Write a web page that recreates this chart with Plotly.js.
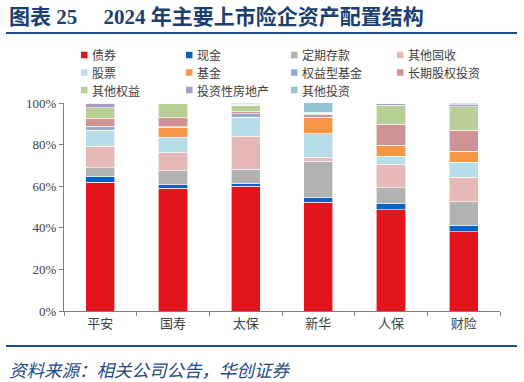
<!DOCTYPE html>
<html><head><meta charset="utf-8">
<script src="https://cdn.plot.ly/plotly-3.0.1.min.js"></script>
<style>html,body{margin:0;padding:0;background:#fff}#c{width:524px;height:382px}</style>
</head><body><div id="c"></div>
<script>
const categories = ['平安','国寿','太保','新华','人保','财险'];
const seriesNames = ['债券','现金','定期存款','其他固收','股票','基金','权益型基金','长期股权投资','其他权益','投资性房地产','其他投资'];
const bonds      = [61.8, 58.9, 60.0, 52.3, 48.8, 38.2];
const cash       = [2.9, 1.8, 1.5, 2.3, 2.9, 3.1];
const deposits   = [4.2, 6.7, 6.6, 17.3, 7.5, 11.3];
const otherFixed = [10.2, 8.8, 15.8, 2.1, 11.3, 11.6];
const stocks     = [7.7, 7.4, 9.2, 11.2, 3.8, 7.4];
const funds      = [0.0, 4.7, 0.0, 7.7, 5.3, 5.3];
const equityFund = [2.1, 0.3, 1.8, 0.2, 0.0, 0.0];
const ltEquity   = [3.7, 4.2, 0.9, 1.6, 10.3, 9.9];
const otherEq    = [5.0, 6.9, 3.2, 0.3, 9.0, 11.4];
const realEstate = [2.1, 0.3, 0.3, 0.5, 0.9, 1.0];
const otherInv   = [0.3, 0.0, 0.7, 4.8, 0.2, 0.8];
const tickVals   = [0, 20, 40, 60, 80, 100];
const tickText   = ['0%','20%','40%','60%','80%','100%'];

const seriesValues = [bonds, cash, deposits, otherFixed, stocks, funds, equityFund, ltEquity, otherEq, realEstate, otherInv];
const colors = ['#E3141B','#0563C1','#B2B2B2','#E6B8B7','#B7DEE8','#F79646','#95A9D4','#D09393','#B8D096','#A99BC3','#92C4D5'];

const traces = seriesNames.map((n,i)=>({
  type:'bar', name:n, x:categories, y:seriesValues[i],
  marker:{color:colors[i], line:{color:'rgba(255,255,255,0.75)', width:0.8}},
  hoverinfo:'skip', showlegend:false
}));

const font = 'Noto Sans CJK SC, sans-serif';
const serif = 'Liberation Serif, Noto Sans CJK SC, serif';
// plot area in pixels: x 64..500, y 103..311
const PL=64, PW=436, PB=311, PH=208;
const px = v => (v-PL)/PW;
const py = v => (PB-v)/PH;

const annotations = [
  {xref:'paper', yref:'paper', x:px(7), y:py(17), xanchor:'left', yanchor:'middle', showarrow:false,
   text:'<b>图表&nbsp;25&nbsp;&nbsp;&nbsp;&nbsp;&nbsp;2024&nbsp;年主要上市险企资产配置结构</b>', font:{family:serif, size:21, color:'#1B3F73'}},
  {xref:'paper', yref:'paper', x:px(7), y:py(369), xanchor:'left', yanchor:'middle', showarrow:false,
   text:'<i>资料来源：相关公司公告，华创证券</i>', font:{family:font, size:17.5, color:'#1F4A8A'}}
];
const shapes = [
  {type:'line', xref:'paper', yref:'paper', x0:px(6), x1:px(517), y0:py(33), y1:py(33), line:{color:'#1F4E89', width:2}},
  {type:'line', xref:'paper', yref:'paper', x0:px(6), x1:px(517), y0:py(346), y1:py(346), line:{color:'#1F4E89', width:2}}
];
const colX = [81, 186, 291, 397];
const rowY = [55, 72.5, 90];
seriesNames.forEach((n,i)=>{
  const cx = colX[i%4], cy = rowY[Math.floor(i/4)];
  shapes.push({type:'rect', xref:'paper', yref:'paper', x0:px(cx), x1:px(cx+6.5), y0:py(cy+3.25), y1:py(cy-3.25),
    fillcolor:colors[i], line:{width:0}});
  annotations.push({xref:'paper', yref:'paper', x:px(cx+9.5), y:py(cy), xanchor:'left', yanchor:'middle', showarrow:false,
    borderpad:0, text:n, font:{family:font, size:12, color:'#404040'}});
});

const layout = {
  width:524, height:382,
  margin:{l:64, r:24, t:103, b:71},
  barmode:'stack', bargap:0.6,
  paper_bgcolor:'#fff', plot_bgcolor:'#fff',
  font:{family:font, size:12, color:'#404040'},
  showlegend:false,
  xaxis:{showline:true, linecolor:'#7f7f7f', linewidth:1, ticks:'outside', ticklen:4, tickcolor:'#7f7f7f',
    tickson:'boundaries', tickfont:{family:font, size:13, color:'#404040'}, showgrid:false, fixedrange:true},
  yaxis:{range:[0,100], tickvals:tickVals, ticktext:tickText, showline:true, linecolor:'#7f7f7f', linewidth:1,
    ticks:'outside', ticklen:4, tickcolor:'#7f7f7f', showgrid:false, zeroline:false,
    tickfont:{family:serif, size:13, color:'#404040'}, fixedrange:true},
  annotations, shapes
};
Plotly.newPlot('c', traces, layout, {displayModeBar:false, staticPlot:true});
</script></body></html>
